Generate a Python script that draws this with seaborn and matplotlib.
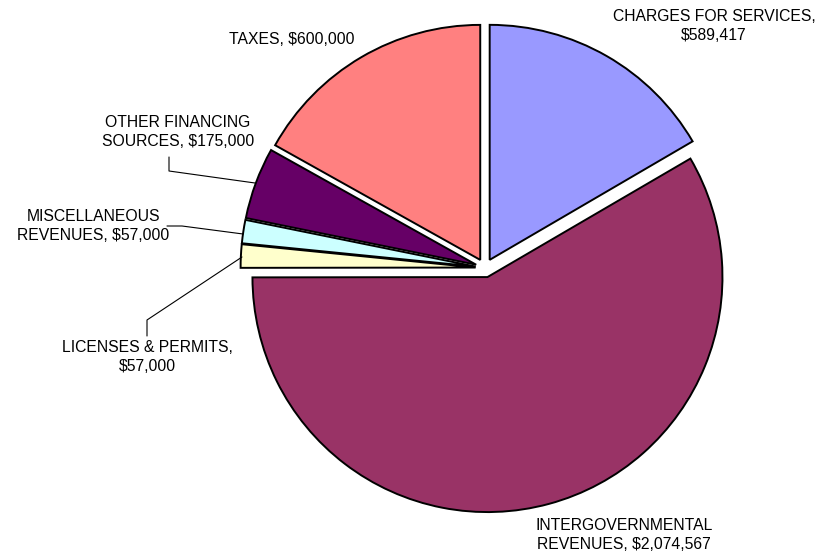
import matplotlib
matplotlib.use("Agg")
import matplotlib.pyplot as plt
import seaborn as sns

categories = ["CHARGES FOR SERVICES", "INTERGOVERNMENTAL REVENUES", "LICENSES & PERMITS",
              "MISCELLANEOUS REVENUES", "OTHER FINANCING SOURCES", "TAXES"]
values = [589417, 2074567, 57000, 57000, 175000, 600000]
label_texts = ["CHARGES FOR SERVICES,\n$589,417",
               "INTERGOVERNMENTAL\nREVENUES, $2,074,567",
               "LICENSES & PERMITS,\n$57,000",
               "MISCELLANEOUS\nREVENUES, $57,000",
               "OTHER FINANCING\nSOURCES, $175,000",
               "TAXES, $600,000"]
colors = ["#9999FF", "#993366", "#FFFFCC", "#CCFFFF", "#660066", "#FF8080"]

sns.set_theme(style="white")
plt.rcParams['font.family'] = ['Liberation Sans', 'DejaVu Sans']

W, H = 820, 555
fig = plt.figure(figsize=(W / 100, H / 100), dpi=100)
cx, cy, R = 485, 268, 235.0
L = 1.1
S = 2 * L * R
ax = fig.add_axes([(cx - S / 2) / W, (H - cy - S / 2) / H, S / W, S / H])

ax.pie(values, colors=colors, startangle=90, counterclock=False,
       explode=[0.04] * len(values), radius=1.0,
       wedgeprops=dict(edgecolor="black", linewidth=1.4))
ax.set_xlim(-L, L)
ax.set_ylim(-L, L)
ax.set_aspect("equal")
ax.axis("off")

def d(px, py):
    return ((px - cx) / R, (cy - py) / R)

# label positions (pixel centers) and leader lines
label_pos = [(714, 26), (624, 535), (147, 357), (93, 226), (178, 132), (292, 40)]
leaders = [None, None,
           [(147, 336), (147, 320), (242, 257)],
           [(167, 226), (182, 226), (243, 234)],
           [(169, 157), (169, 171), (255, 183)],
           None]

for txt, (px, py), ld in zip(label_texts, label_pos, leaders):
    x, y = d(px, py)
    ax.text(x, y, txt, ha="center", va="center", fontsize=11.3, color="black",
            linespacing=1.4, clip_on=False)
    if ld:
        xs, ys = zip(*[d(a, b) for a, b in ld])
        ax.plot(xs, ys, color="black", linewidth=0.8, clip_on=False)

fig.savefig("out.png", dpi=100, facecolor="white")
